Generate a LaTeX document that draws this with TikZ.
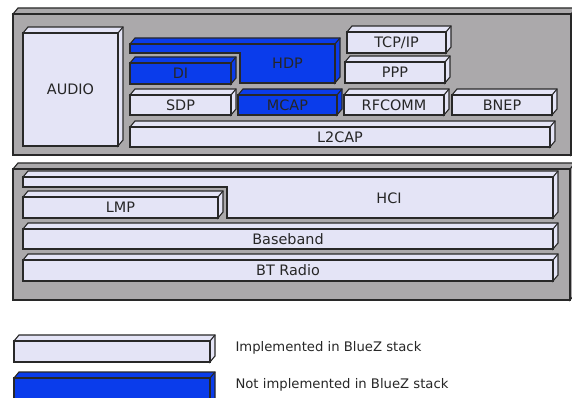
\documentclass[tikz,border=0pt]{standalone}
\usepackage{fontspec}
\setmainfont{DejaVu Sans}

\definecolor{implfill}{RGB}{228,228,246}
\definecolor{todofill}{RGB}{10,60,235}
\definecolor{panelfill}{RGB}{171,169,171}
\definecolor{edge}{RGB}{40,40,40}

\tikzset{
  outline/.style={draw=edge, line width=1.1pt, line join=miter},
  impl/.style={outline, fill=implfill},
  todo/.style={outline, fill=todofill},
  panel/.style={outline, fill=panelfill},
  lbl/.style={font=\fontsize{14.4}{16}\selectfont, text=black!85},
  keylbl/.style={font=\fontsize{13.2}{15}\selectfont, text=black!85, anchor=west},
}

% 3-D slab: name, x1, y1, x2, y2 (front face), style, label
\newcommand\slab[7]{%
  \path[#6] (#2,#3) -- ({#2+5},{#3-6}) -- ({#4+5},{#3-6}) -- ({#4+5},{#5-6})
            -- (#4,#5) -- (#4,#3) -- cycle;
  \path[#6] (#4,#3) -- ({#4+5},{#3-6});
  \node[#6, lbl, inner sep=0pt, outer sep=0pt, anchor=center,
        minimum width={(#4-#2)*1pt}, minimum height={(#5-#3)*1pt}]
        (#1) at ({(#2+#4)/2},{(#3+#5)/2}) {#7};
}

\begin{document}
\begin{tikzpicture}[x=1pt, y=-1pt]
\useasboundingbox (0,0) rectangle (572,398);

% host and controller panels
\slab{upper}{13}{14}{571}{155}{panel}{}
\slab{lower}{13}{169}{570}{300}{panel}{}

% host stack
\slab{audio}{23}{33}{118}{146}{impl}{AUDIO}

\path[todo] (130,44) -- (135,38) -- (340,38) -- (340,77) -- (335,83) -- (335,44) -- cycle;
\path[todo] (335,44) -- (340,38);
\path[todo] (130,44) -- (335,44) -- (335,83) -- (240,83) -- (240,53) -- (130,53) -- cycle;
\node[lbl] (hdp) at (287.5,63) {HDP};

\slab{di}{130}{63}{231}{84}{todo}{DI}
\slab{tcpip}{347}{32}{446}{53}{impl}{TCP/IP}
\slab{ppp}{345}{62}{445}{83}{impl}{PPP}
\slab{sdp}{130}{95}{231}{115}{impl}{SDP}
\slab{mcap}{238}{95}{337}{115}{todo}{MCAP}
\slab{rfcomm}{344}{95}{444}{115}{impl}{RFCOMM}
\slab{bnep}{452}{95}{552}{115}{impl}{BNEP}
\slab{l2cap}{130}{127}{550}{147}{impl}{L2CAP}

% controller stack
\path[impl] (23,177) -- (28,171) -- (558,171) -- (558,212) -- (553,218) -- (553,177) -- cycle;
\path[impl] (553,177) -- (558,171);
\path[impl] (23,177) -- (553,177) -- (553,218) -- (227,218) -- (227,187) -- (23,187) -- cycle;
\node[lbl] (hci) at (389,198) {HCI};

\slab{lmp}{23}{197}{218}{218}{impl}{LMP}
\slab{baseband}{23}{229}{553}{249}{impl}{Baseband}
\slab{btradio}{23}{260}{553}{281}{impl}{BT Radio}

% legend
\slab{keyimpl}{14}{341}{210}{362}{impl}{}
\slab{keytodo}{14}{378}{210}{405}{todo}{}
\node[keylbl] (keyimpltext) at (232,348) {Implemented in BlueZ stack};
\node[keylbl] (keytodotext) at (232,385) {Not implemented in BlueZ stack};
\end{tikzpicture}
\end{document}
